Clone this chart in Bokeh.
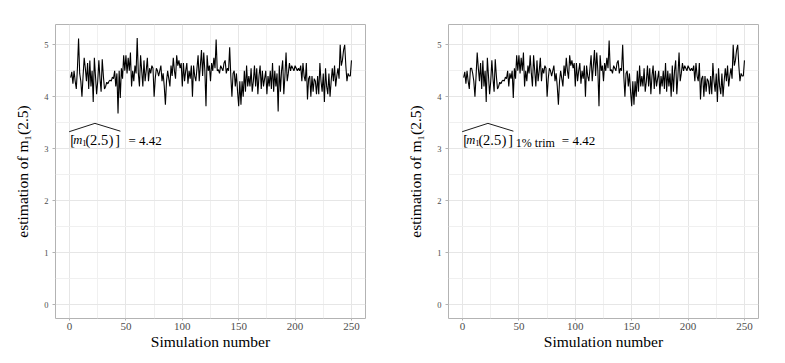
from bokeh.plotting import figure
from bokeh.layouts import row
from bokeh.models import Label, FixedTicker, Range1d
from bokeh.embed import file_html
from bokeh.resources import INLINE

# ---------------- data ----------------
sim_number = list(range(1, 251))

est_full = [
    4.37, 4.48, 4.25, 4.50, 4.30, 4.15, 4.55, 5.12, 4.45, 4.30,
    4.00, 4.40, 4.75, 4.55, 4.30, 4.65, 4.15, 4.70, 4.20, 4.50,
    3.90, 4.75, 4.40, 4.05, 4.30, 4.70, 4.35, 4.10, 4.72, 4.40,
    4.15, 4.20, 4.28, 4.25, 4.30, 4.32, 4.30, 4.38, 4.35, 4.50,
    4.20, 4.45, 3.68, 4.50, 3.98, 4.55, 4.35, 4.80, 4.50, 4.80,
    4.45, 4.75, 4.50, 4.85, 4.20, 4.50, 4.30, 4.60, 4.45, 5.13,
    4.45, 4.20, 4.80, 4.50, 4.20, 4.70, 4.30, 4.50, 4.75, 4.30,
    4.55, 4.45, 4.60, 4.55, 4.00, 4.35, 4.55, 4.50, 4.40, 4.50,
    4.60, 4.30, 4.45, 4.20, 3.85, 4.30, 4.50, 4.35, 4.20, 4.60,
    4.40, 4.75, 4.50, 4.35, 4.80, 4.60, 4.70, 4.55, 4.65, 4.20,
    4.65, 4.30, 4.50, 4.65, 4.25, 4.50, 4.35, 4.60, 4.00, 4.60,
    4.40, 4.30, 4.55, 4.80, 4.30, 4.60, 4.90, 4.40, 4.85, 4.50,
    3.82, 4.80, 4.50, 4.60, 4.30, 4.65, 4.50, 4.75, 4.55, 5.10,
    4.50, 4.52, 4.45, 4.60, 4.55, 4.50, 4.65, 4.70, 4.45, 4.55,
    4.50, 4.95, 4.40, 4.00, 4.45, 4.50, 4.20, 4.45, 4.10, 3.82,
    4.30, 3.85, 4.30, 4.00, 4.50, 4.10, 4.60, 4.20, 4.40, 4.20,
    4.55, 4.10, 4.30, 4.60, 4.20, 4.55, 4.05, 4.40, 4.60, 4.15,
    4.50, 4.20, 4.35, 4.50, 4.05, 4.40, 4.20, 4.50, 4.15, 4.65,
    4.10, 4.50, 4.20, 4.45, 3.72, 4.60, 4.10, 4.50, 4.70, 4.05,
    4.40, 4.85, 4.30, 4.45, 4.65, 4.50, 4.60, 4.55, 4.50, 4.60,
    4.55, 4.50, 4.55, 4.50, 4.60, 4.30, 4.65, 4.40, 4.30, 4.65,
    3.95, 4.35, 4.40, 4.00, 4.40, 4.10, 4.35, 4.30, 4.05, 4.40,
    4.05, 4.65, 4.30, 4.10, 4.45, 3.90, 4.55, 4.20, 4.05, 4.45,
    4.00, 4.30, 4.55, 4.30, 4.60, 4.20, 4.40, 4.55, 4.35, 5.00,
    4.60, 4.70, 4.90, 5.00, 4.60, 4.30, 4.45, 4.40, 4.40, 4.70,
]

est_trim = [
    4.37, 4.48, 4.25, 4.50, 4.30, 4.15, 4.55, 4.55, 4.45, 4.30,
    4.00, 4.40, 4.85, 4.55, 4.30, 4.65, 4.15, 4.70, 4.20, 4.50,
    3.90, 4.75, 4.40, 4.05, 4.30, 4.70, 4.35, 4.10, 4.72, 4.40,
    4.15, 4.20, 4.28, 4.25, 4.30, 4.32, 4.30, 4.38, 4.35, 4.50,
    4.20, 4.45, 4.35, 4.50, 3.98, 4.55, 4.35, 4.80, 4.50, 4.80,
    4.45, 4.75, 4.50, 4.85, 4.20, 4.50, 4.30, 4.60, 4.45, 4.80,
    4.45, 4.20, 4.80, 4.50, 4.20, 4.70, 4.30, 4.50, 4.75, 4.30,
    4.55, 4.45, 4.60, 4.55, 4.00, 4.35, 4.55, 4.50, 4.40, 4.50,
    4.60, 4.30, 4.45, 4.20, 3.85, 4.30, 4.50, 4.35, 4.20, 4.60,
    4.40, 4.75, 4.50, 4.35, 4.80, 4.60, 4.70, 4.55, 4.65, 4.20,
    4.65, 4.30, 4.50, 4.65, 4.25, 4.50, 4.35, 4.60, 4.00, 4.60,
    4.40, 4.30, 4.55, 4.80, 4.30, 4.60, 4.90, 4.40, 4.85, 4.50,
    3.82, 4.80, 4.50, 4.60, 4.30, 4.65, 4.50, 4.75, 4.55, 5.08,
    4.50, 4.52, 4.45, 4.60, 4.55, 4.50, 4.65, 4.70, 4.45, 4.55,
    4.50, 5.00, 4.40, 4.00, 4.45, 4.50, 4.20, 4.45, 4.10, 3.82,
    4.30, 3.85, 4.30, 4.00, 4.50, 4.10, 4.60, 4.20, 4.40, 4.20,
    4.55, 4.10, 4.30, 4.60, 4.20, 4.55, 4.05, 4.40, 4.60, 4.15,
    4.50, 4.20, 4.35, 4.50, 4.05, 4.40, 4.20, 4.50, 4.15, 4.65,
    4.10, 4.50, 4.20, 4.45, 4.00, 4.60, 4.10, 4.50, 4.70, 4.05,
    4.40, 4.85, 4.30, 4.45, 4.65, 4.50, 4.60, 4.55, 4.50, 4.60,
    4.55, 4.50, 4.55, 4.50, 4.60, 4.30, 4.65, 4.40, 4.30, 4.65,
    3.95, 4.35, 4.40, 4.00, 4.40, 4.10, 4.35, 4.30, 4.05, 4.40,
    4.05, 4.65, 4.30, 4.10, 4.45, 3.90, 4.55, 4.20, 4.05, 4.45,
    4.00, 4.30, 4.55, 4.30, 4.60, 4.20, 4.40, 4.55, 4.35, 5.00,
    4.60, 4.70, 4.90, 5.00, 4.60, 4.30, 4.45, 4.40, 4.40, 4.70,
]

x_ticks = [0, 50, 100, 150, 200, 250]
x_minor = [25, 75, 125, 175, 225]
y_ticks = [0, 1, 2, 3, 4, 5]
y_minor = [0.5, 1.5, 2.5, 3.5, 4.5]

mean_value = "4.42"

# annotation geometry (data units for anchor, pixels for offsets)
ANN_X = 0
ANN_Y = 3.17
SUB_Y = 3.11
HAT_X = [-0.3, 22.5, 45.1]
HAT_Y = [3.33, 3.49, 3.34]

SERIF = "Liberation Serif"
GRID = "#e6e6e6"
MINOR = "#f0f0f0"
BORDER = "#b3b3b3"
TICKTXT = "#4d4d4d"


def make_panel(values, left, right, subscript):
    p = figure(frame_width=310, frame_height=294, output_backend="svg", toolbar_location=None,
               x_range=Range1d(-12.45, 262.45), y_range=Range1d(-0.26, 5.39),
               min_border_left=left, min_border_right=right,
               min_border_top=24, min_border_bottom=10)
    p.background_fill_color = "white"
    p.border_fill_color = "white"
    p.outline_line_color = BORDER
    p.outline_line_width = 1

    p.xaxis.ticker = FixedTicker(ticks=x_ticks, minor_ticks=x_minor)
    p.yaxis.ticker = FixedTicker(ticks=y_ticks, minor_ticks=y_minor)
    for ax in (p.xaxis[0], p.yaxis[0]):
        ax.axis_line_color = None
        ax.major_tick_line_color = BORDER
        ax.major_tick_out = 3
        ax.major_tick_in = 0
        ax.minor_tick_line_color = None
        ax.major_label_text_color = TICKTXT
        ax.major_label_text_font = SERIF
        ax.axis_label_text_font = SERIF
        ax.axis_label_text_font_style = "normal"
        ax.axis_label_text_color = "black"
        ax.axis_label_text_font_size = "15.5px"
    p.xaxis.major_label_text_font_size = "11px"
    p.yaxis.major_label_text_font_size = "8.5px"
    p.xaxis.major_tick_out = 2
    p.xaxis.major_label_standoff = 0
    p.yaxis.major_label_standoff = 3
    p.xaxis.axis_label = "Simulation number"
    p.yaxis.axis_label = "estimation of m\u2081(2.5)"
    p.xaxis.axis_label_standoff = 0
    p.yaxis.axis_label_standoff = 10

    p.xgrid.grid_line_color = GRID
    p.ygrid.grid_line_color = GRID
    p.xgrid.minor_grid_line_color = MINOR
    p.ygrid.minor_grid_line_color = MINOR

    p.line(sim_number, values, line_color="black", line_width=1.1)

    # annotation
    p.line(HAT_X, HAT_Y, line_color="black", line_width=0.9)
    pieces = [
        ("[", 0.6, 14, "normal", ANN_Y),
        ("m", 3.8, 12.5, "italic", ANN_Y),
        ("1", 12.6, 8.5, "normal", SUB_Y),
        ("(", 16.0, 14, "normal", ANN_Y),
        ("2.5", 20.5, 14.5, "normal", ANN_Y),
        (")", 39.2, 14, "normal", ANN_Y),
        ("]", 45.8, 14, "normal", ANN_Y),
    ]
    if subscript:
        pieces += [
            ("1% trim", 53.3, 12, "normal", SUB_Y),
            ("= " + mean_value, 99.3, 13, "normal", ANN_Y),
        ]
    else:
        pieces += [("= " + mean_value, 59.0, 13, "normal", ANN_Y)]
    for txt, off, size, style, yy in pieces:
        p.add_layout(Label(x=ANN_X, y=yy, x_offset=off, text=txt,
                           text_font=SERIF, text_font_size=f"{size}px",
                           text_font_style=style, text_color="black",
                           text_baseline="alphabetic", text_align="left"))
    return p


p1 = make_panel(est_full, 55, 35, False)
p2 = make_panel(est_trim, 48, 19, True)

layout = row(p1, p2)
open("out.html", "w").write(file_html(layout, INLINE))
